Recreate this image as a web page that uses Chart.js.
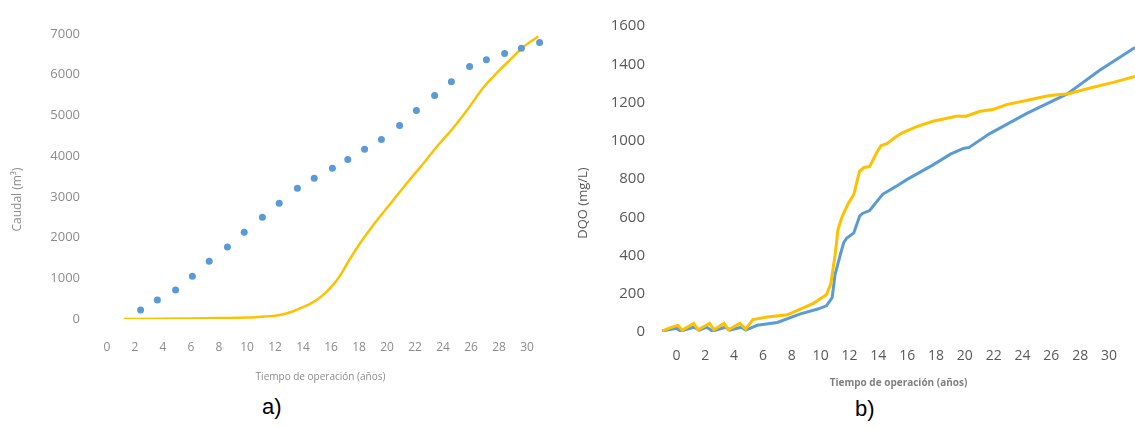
<!DOCTYPE html>
<html>
<head>
<meta charset="utf-8"/>
<title>Caudal y DQO</title>
<script src="https://cdn.jsdelivr.net/npm/chart.js@4.4.1/dist/chart.umd.min.js"></script>
<style>
body { margin:0; background:#fff; width:1135px; height:427px; position:relative; overflow:hidden; }
canvas { position:absolute; top:0; }
#ca { left:0; }
#cb { left:560px; }
.lbl { position:absolute; font-family:"Liberation Sans", Arial, sans-serif; font-size:22px; color:#000; }
</style>
</head>
<body>
<canvas id="ca" width="560" height="390"></canvas>
<canvas id="cb" width="575" height="395"></canvas>
<div class="lbl" style="left:262px;top:394px;">a)</div>
<div class="lbl" style="left:855px;top:396px;">b)</div>
<script>
// a) caudal
var aTicksX = [0,2,4,6,8,10,12,14,16,18,20,22,24,26,28,30];
var aTicksY = [0,1000,2000,3000,4000,5000,6000,7000];
var aDotsX = [2.4,3.6,4.9,6.1,7.3,8.6,9.8,11.1,12.3,13.6,14.8,16.1,17.2,18.4,19.6,20.9,22.1,23.4,24.6,25.9,27.1,28.4,29.6,30.9];
var aDotsY = [220,465,710,1050,1420,1770,2130,2500,2840,3210,3455,3700,3920,4170,4410,4750,5120,5490,5830,6200,6370,6520,6650,6790];
var aLineX = [1.2,2,4,6,8,10,11,12,12.6,13.3,14,14.6,15.1,15.6,16.1,16.6,17.2,17.9,18.6,19.3,20.4,21.5,22.6,23.6,24.7,25.7,26.9,27.8,28.6,29.7,30.8];
var aLineY = [0,0,5,15,25,35,55,80,115,190,290,390,500,640,820,1040,1390,1770,2110,2430,2900,3370,3820,4250,4680,5120,5690,6030,6300,6670,6940];

// b) DQO
var bTicksX = [0,2,4,6,8,10,12,14,16,18,20,22,24,26,28,30];
var bTicksY = [0,200,400,600,800,1000,1200,1400,1600];
var bYellowX = [-1,-0.5,0.1,0.4,1.2,1.5,2.3,2.6,3.3,3.6,4.4,4.8,5.3,6.3,7.7,8.6,9.5,10.4,10.7,11.0,11.2,11.5,11.9,12.3,12.7,13.0,13.4,13.9,14.2,14.6,15.2,15.7,16.7,17.8,18.6,19.4,20.1,21.0,22.0,22.9,24.5,25.7,26.4,27.1,28.9,30.3,31.8];
var bYellowY = [5,20,35,10,45,12,45,12,45,12,45,15,65,78,90,120,150,195,250,400,535,605,670,720,840,860,865,940,975,985,1020,1043,1075,1102,1115,1128,1128,1153,1165,1189,1214,1234,1240,1245,1280,1305,1336];
var bBlueX = [-1,0,0.3,1.2,1.6,2.1,2.5,3.4,3.7,4.5,4.8,5.6,7.0,8.6,9.8,10.4,10.8,11.0,11.35,11.6,11.8,12.3,12.7,12.9,13.4,14.3,15.2,16.0,17.8,19.0,19.9,20.3,21.7,24.3,27.1,29.3,31.8];
var bBlueY = [5,20,5,25,10,25,5,25,10,25,10,35,50,95,120,137,180,300,400,467,490,518,605,620,635,720,760,798,874,930,960,965,1036,1143,1245,1366,1488];

var BLUE = '#5B9BD5';
var YELLOW = '#FFC000';

Chart.defaults.font.family = "'Open Sans', sans-serif";
Chart.defaults.animation = false;

function pts(xs, ys) {
  var out = [];
  for (var i = 0; i < xs.length; i++) out.push({ x: xs[i], y: ys[i] });
  return out;
}
function fixTicks(list) {
  return function (s) { s.ticks = list.map(function (v) { return { value: v }; }); };
}
function plain(v) { return String(v); }

// y title drawn a bit below the middle of the plot, as in the original
var yTitlePlugin = {
  id: 'yTitle',
  afterDraw: function (chart, args, o) {
    var ctx = chart.ctx, a = chart.chartArea;
    ctx.save();
    ctx.translate(o.x, (a.top + a.bottom) / 2 + o.dy);
    ctx.rotate(-Math.PI / 2);
    ctx.font = o.font;
    ctx.fillStyle = o.color;
    ctx.textAlign = 'center';
    ctx.textBaseline = 'middle';
    ctx.fillText(o.text, 0, 0);
    ctx.restore();
  }
};

new Chart(document.getElementById('ca'), {
  type: 'scatter',
  data: {
    datasets: [
      { data: pts(aDotsX, aDotsY), backgroundColor: BLUE, borderColor: BLUE, pointRadius: 3.5, pointBorderWidth: 0, showLine: false },
      { data: pts(aLineX, aLineY), borderColor: YELLOW, backgroundColor: YELLOW, borderWidth: 2.5, pointRadius: 0, showLine: true, cubicInterpolationMode: 'monotone' }
    ]
  },
  plugins: [yTitlePlugin],
  options: {
    responsive: false,
    devicePixelRatio: 1,
    layout: { padding: { top: 34, right: 12, bottom: 0, left: 0 } },
    plugins: {
      legend: { display: false }, tooltip: { enabled: false },
      yTitle: { text: 'Caudal (m³)', x: 18, dy: 23, font: "12px 'Open Sans', sans-serif", color: '#8c8c8c' }
    },
    scales: {
      x: {
        type: 'linear', min: -1, max: 31.5,
        afterBuildTicks: fixTicks(aTicksX),
        afterFit: function (s) { s.height = 71; },
        grid: { display: false, drawTicks: false }, border: { display: false },
        ticks: { color: '#8c8c8c', font: { size: 12 }, padding: 21, maxRotation: 0, autoSkip: false, callback: plain },
        title: { display: true, text: 'Tiempo de operación (años)', color: '#8c8c8c', font: { size: 10 }, padding: { top: 0, bottom: 7 } }
      },
      y: {
        min: 0, max: 7000,
        afterBuildTicks: fixTicks(aTicksY),
        afterFit: function (s) { s.width = 93; },
        grid: { display: false, drawTicks: false }, border: { display: false },
        ticks: { color: '#8c8c8c', font: { size: 13 }, padding: 13, callback: plain }
      }
    }
  }
});

new Chart(document.getElementById('cb'), {
  type: 'scatter',
  data: {
    datasets: [
      { data: pts(bYellowX, bYellowY), borderColor: YELLOW, backgroundColor: YELLOW, borderWidth: 3, pointRadius: 0, showLine: true },
      { data: pts(bBlueX, bBlueY), borderColor: BLUE, backgroundColor: BLUE, borderWidth: 3, pointRadius: 0, showLine: true }
    ]
  },
  plugins: [yTitlePlugin],
  options: {
    responsive: false,
    devicePixelRatio: 1,
    layout: { padding: { top: 17, right: 0, bottom: 0, left: 0 } },
    plugins: {
      legend: { display: false }, tooltip: { enabled: false },
      yTitle: { text: 'DQO (mg/L)', x: 23, dy: 24, font: "13px 'Open Sans', sans-serif", color: '#595959' }
    },
    scales: {
      x: {
        type: 'linear', min: -1, max: 31.8,
        afterBuildTicks: fixTicks(bTicksX),
        afterFit: function (s) { s.height = 63; },
        grid: { display: false, drawTicks: false }, border: { display: false },
        ticks: { color: '#595959', font: { size: 14 }, padding: 16, maxRotation: 0, autoSkip: false, callback: plain },
        title: { display: true, text: 'Tiempo de operación (años)', color: '#7f7f7f', font: { size: 10, weight: 'bold' }, padding: { top: 0, bottom: 6 } }
      },
      y: {
        min: 0, max: 1600,
        afterBuildTicks: fixTicks(bTicksY),
        afterFit: function (s) { s.width = 102; },
        grid: { display: false, drawTicks: false }, border: { display: false },
        ticks: { color: '#595959', font: { size: 15 }, padding: 17, callback: plain }
      }
    }
  }
});
</script>
</body>
</html>
